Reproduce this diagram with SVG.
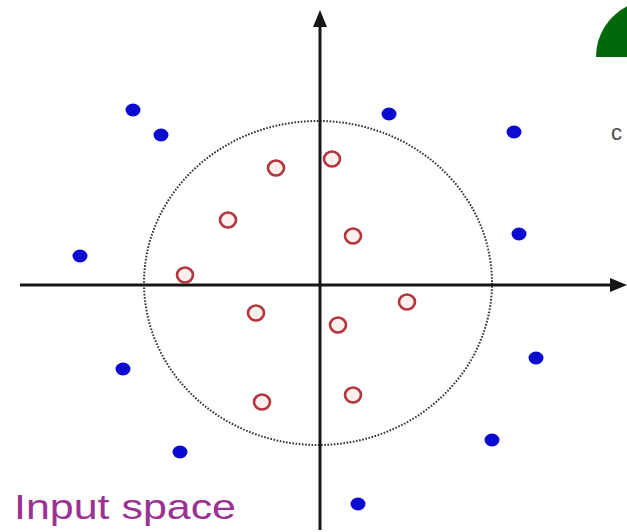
<svg xmlns="http://www.w3.org/2000/svg" width="627" height="532" viewBox="0 0 627 532">
  <style>
    .axis { stroke: #161616; stroke-width: 3; fill: none; }
    .head { fill: #161616; }
    .neg { fill: #0a0ad0; }
    .pos { fill: #fff0f0; stroke: #b3363c; stroke-width: 2.6; }
    .boundary { fill: none; stroke: #333; stroke-width: 2; stroke-dasharray: 1.6 1.6; }
    .label { font-family: "Liberation Sans", Arial, sans-serif; font-size: 35px; fill: #9a3293; }
  </style>
  <rect width="627" height="532" fill="#ffffff"/>
  <g id="decor">
    <path d="M596,57 A57,57 0 0 1 653,0 L653,57 Z" fill="#006a0a"/>
    <text x="611" y="140" font-family="Liberation Sans, Arial, sans-serif" font-size="22" fill="#4a4a4a">c</text>
  </g>
  <g id="boundary">
    <ellipse class="boundary" cx="318" cy="283" rx="174" ry="162"/>
  </g>
  <g id="axes">
    <line class="axis" x1="20" y1="285" x2="614" y2="285"/>
    <polygon class="head" points="627,285 610,278 610,292"/>
    <line class="axis" x1="320" y1="530" x2="320" y2="24"/>
    <polygon class="head" points="320,10 313,27 327,27"/>
  </g>
  <g id="negatives">
    <ellipse class="neg" cx="133" cy="110" rx="7.5" ry="6.5"/>
    <ellipse class="neg" cx="161" cy="135" rx="7.5" ry="6.5"/>
    <ellipse class="neg" cx="389" cy="114" rx="7.5" ry="6.5"/>
    <ellipse class="neg" cx="514" cy="132" rx="7.5" ry="6.5"/>
    <ellipse class="neg" cx="80" cy="256" rx="7.5" ry="6.5"/>
    <ellipse class="neg" cx="519" cy="234" rx="7.5" ry="6.5"/>
    <ellipse class="neg" cx="123" cy="369" rx="7.5" ry="6.5"/>
    <ellipse class="neg" cx="536" cy="358" rx="7.5" ry="6.5"/>
    <ellipse class="neg" cx="180" cy="452" rx="7.5" ry="6.5"/>
    <ellipse class="neg" cx="492" cy="440" rx="7.5" ry="6.5"/>
    <ellipse class="neg" cx="358" cy="504" rx="7.5" ry="6.5"/>
  </g>
  <g id="positives">
    <ellipse class="pos" cx="276" cy="168" rx="8" ry="7.5"/>
    <ellipse class="pos" cx="332" cy="159" rx="8" ry="7.5"/>
    <ellipse class="pos" cx="228" cy="220" rx="8" ry="7.5"/>
    <ellipse class="pos" cx="353" cy="236" rx="8" ry="7.5"/>
    <ellipse class="pos" cx="185" cy="275" rx="8" ry="7.5"/>
    <ellipse class="pos" cx="256" cy="313" rx="8" ry="7.5"/>
    <ellipse class="pos" cx="338" cy="325" rx="8" ry="7.5"/>
    <ellipse class="pos" cx="407" cy="302" rx="8" ry="7.5"/>
    <ellipse class="pos" cx="262" cy="402" rx="8" ry="7.5"/>
    <ellipse class="pos" cx="353" cy="395" rx="8" ry="7.5"/>
  </g>
  <g id="title">
    <text class="label" x="14" y="519" textLength="222" lengthAdjust="spacingAndGlyphs">Input space</text>
  </g>
</svg>
